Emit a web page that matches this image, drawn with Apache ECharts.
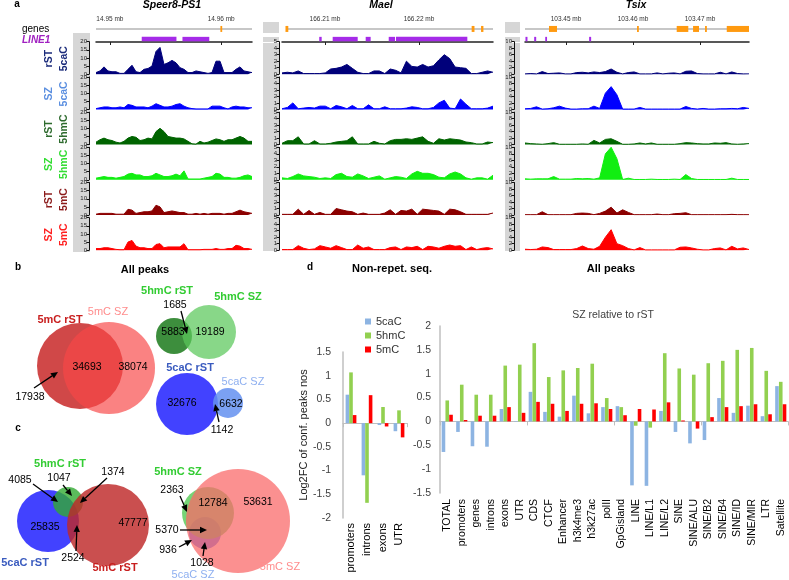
<!DOCTYPE html>
<html><head><meta charset="utf-8">
<script src="https://cdn.jsdelivr.net/npm/echarts@6/dist/echarts.min.js"></script>
<style>html,body{margin:0;padding:0;background:#fff}#c{width:789px;height:580px}</style>
</head><body><div id="c"></div>
<script>
// ---------- Panel a: signal tracks (40 bins per locus) ----------
const speer_rST_5caC = [1,2,4.5,2,1.5,1.5,0.5,0.5,3,5.5,1.5,1,3,3.5,5,14,16.5,6,7,8.5,7,4,3,1,1,2,1.5,1,0.5,1,8,8,1,1,1,3,4.5,2,1.5,1];
const speer_SZ_5caC = [0.5,1,1.5,1.5,1,1,1.5,1,3,2.5,1.5,1.5,1.5,1,2,3.5,2.5,1.5,1.5,2,3,3.5,2,1,0.5,0.3,0.3,0.3,0.3,2,2,2,1,0.3,1.5,2,1.5,1.5,1,1];
const speer_rST_5hmC = [1.5,3,4,3,2.5,1.5,1,2,4,5,4.5,2.5,3,4,3.5,8,10,8,5,4.5,4,4,3.5,2,0.5,0.3,2,1,1.5,2.5,3.5,3,2,3,3,4,5,4,2,2];
const speer_SZ_5hmC = [1,1.5,2,1.5,1.5,1,1.5,2,3.5,4,3,3,2,2,2.5,4,3,2,2,2.5,3.5,2.5,5.5,0.5,0.5,0.5,0.5,1,1.5,2,4,3.5,1.5,1.5,1,1,1.5,2.5,3,2];
const speer_rST_5mC = [0.5,1,1,1,1,0.5,0.5,0.5,3.5,3,1,1.5,2,2,2.5,6,5,1.5,2,2.5,2,1.5,1.5,0.5,0.5,1,0.5,1,0.5,1,1,1,0.5,1,1,2,3,2,1.5,1];
const speer_SZ_5mC = [1,1,1.5,1.5,1,0.5,0.3,0.3,5,6,2.5,1.5,1.5,1,1,3.5,4,1.5,2,2,2,2,4,0.3,0.3,0.3,0.3,0.5,0.5,0.5,1,0.5,0.5,1,1,3,2.5,1,1,0.5];

const mael_rST_5caC = [0.2,0.3,0.2,0.5,0.1,0.1,0.1,0.1,0.2,0.8,0.9,1.1,1.5,0.9,0.3,0.1,0.1,0.5,0.5,0.1,0.8,0.6,0.2,2.0,1.2,1.1,1.5,1.1,1.3,2.2,3.0,2.4,1.1,1.0,0.9,0.1,0.1,0.3,0.5,0.3];
const mael_SZ_5caC = [0.1,0.3,1.0,0.1,0.2,0.3,0.2,0.5,0.5,0.1,0.6,0.4,0.1,0.6,0.1,0.1,0.7,0.1,0.1,0.4,0.1,0.1,0.1,0.2,0.4,0.3,0.1,0.1,0.3,1.0,1.4,0.2,0.1,1.6,0.8,0.1,0.1,0.1,0.2,0.5];
const mael_rST_5hmC = [0.2,0.6,0.6,1.2,0.1,0.1,0.6,0.1,0.1,0.2,0.4,0.5,0.6,1.2,0.1,0.1,0.1,0.5,0.2,0.1,0.6,0.8,0.8,0.9,0.8,1.0,1.2,0.5,0.2,0.9,0.7,0.9,0.8,0.7,0.4,0.3,0.1,0.1,0.4,0.3];
const mael_SZ_5hmC = [0.3,0.2,0.5,0.9,0.6,0.5,0.4,0.2,0.3,0.2,0.8,1.0,0.5,0.4,0.9,0.6,0.2,0.4,0.6,0.1,0.3,0.5,0.4,0.2,0.9,1.3,1.0,1.0,0.8,0.4,0.3,0.9,1.2,0.9,0.3,0.1,0.3,0.3,0.1,0.7];
const mael_rST_5mC = [0.1,0.1,0.1,0.9,0.1,0.7,0.1,0.4,0.1,0.1,1.0,0.8,0.6,0.5,0.1,0.3,0.1,0.1,0.1,0.3,0.8,0.1,0.7,0.6,0.9,0.1,0.9,0.8,0.7,0.6,0.1,0.9,0.8,0.5,0.1,0.1,0.1,0.1,0.1,0.3];
const mael_SZ_5mC = [0.1,0.1,0.1,0.7,0.3,0.1,0.2,0.7,0.5,0.3,0.7,0.4,0.1,0.1,0.8,0.3,0.5,0.1,0.1,0.1,0.4,0.5,0.1,0.5,0.4,0.6,0.1,0.6,0.5,0.3,0.6,0.8,0.6,0.7,0.1,0.5,0.1,0.3,0.4,0.2];

const tsix_rST_5caC = [0.1,0.2,0.1,0.8,0.2,0.3,0.4,0.1,0.1,0.5,0.6,0.4,0.7,0.5,0.8,1.6,0.6,0.1,0.5,0.7,0.1,0.1,0.1,0.4,0.1,0.3,0.4,0.1,0.9,1.0,0.2,0.1,0.1,0.1,0.6,0.1,0.7,0.2,0.1,0.1];
const tsix_SZ_5caC = [0.2,0.3,0.8,0.1,0.2,0.5,1.0,0.4,0.1,0.1,0.2,0.2,1.0,0.3,5.0,7.0,4.5,0.1,0.1,0.1,0.6,0.1,0.1,0.1,0.1,0.1,0.1,0.1,0.9,0.3,0.1,0.3,0.1,0.1,0.2,0.2,0.3,0.2,0.6,0.3];
const tsix_rST_5hmC = [0.5,0.3,0.2,0.1,0.3,0.6,0.1,0.1,0.1,0.1,0.2,0.1,1.3,0.5,1.6,1.8,1.0,0.1,0.1,0.2,0.5,0.2,0.5,0.1,0.1,0.1,0.1,0.3,0.6,0.5,0.3,0.2,0.2,0.5,0.4,0.6,0.2,0.1,0.2,0.3];
const tsix_SZ_5hmC = [0.3,0.2,0.3,0.3,0.3,1.0,0.2,0.2,0.2,0.4,0.3,0.4,0.2,0.6,8.0,10,6.5,0.1,0.5,0.1,0.1,0.1,0.2,0.1,0.1,0.1,0.2,0.1,1.6,0.4,0.1,0.1,0.1,0.1,0.1,0.1,0.5,0.1,0.1,0.1];
const tsix_rST_5mC = [0.1,0.1,0.1,1.0,0.1,0.1,0.1,0.1,0.1,0.5,0.6,0.5,0.1,0.5,1.2,2.4,0.6,1.6,0.8,0.1,0.1,0.1,0.1,0.3,0.1,0.1,0.4,0.5,0.7,0.1,0.1,0.1,0.1,0.1,0.1,0.1,0.2,0.1,0.1,0.1];
const tsix_SZ_5mC = [0.3,0.2,0.3,1.0,0.8,0.2,0.2,0.2,0.2,0.5,1.3,0.5,0.3,1.2,4.0,6.3,2.0,1.4,0.5,0.1,0.8,0.1,0.1,0.1,0.1,0.1,0.1,0.9,1.0,0.7,0.3,0.1,0.1,0.5,0.7,0.1,1.2,0.4,0.7,0.2];

// genomic annotation (mb)
const locusNames = ['Speer8-PS1','Mael','Tsix'];
const locusRange = [[14.94875,14.96277],[166.20543,166.22787],[103.44388,103.47731]];
const locusTicks = [[14.95,14.96],[166.21,166.22],[103.45,103.46,103.47]];
const speer_gene = [[14.94875,14.96277]];
const speer_exons = [[14.95993,14.96007]];
const speer_line1 = [[14.95286,14.95598],[14.95652,14.95893]];
const mael_gene = [[166.20590,166.22787]];
const mael_exons = [[166.20580,166.20610],[166.22560,166.22590],[166.22660,166.22685]];
const mael_line1 = [[166.20939,166.20965],[166.21082,166.21348],[166.21433,166.21486],[166.21678,166.21745],[166.21755,166.22514]];
const tsix_gene = [[103.44388,103.47731]];
const tsix_exons = [[103.44746,103.44866],[103.46060,103.46080],[103.46652,103.46825],[103.46896,103.46985],[103.47075,103.47095],[103.47399,103.47731]];
const tsix_line1 = [[103.44395,103.44425],[103.44525,103.44555],[103.44690,103.44715],[103.45345,103.45375]];

// ---------- Panel b/c: Venn counts ----------
const venn_5mC = [17938, 34693, 38074];          // rST only, shared, SZ only
const venn_5hmC = [5883, 1685, 19189];
const venn_5caC = [32676, 1142, 6632];
const venn_rST = [25835, 4085, 1047, 1374, 2524, 47777];
const venn_SZ = [2363, 12784, 53631, 5370, 936, 1028];

// ---------- Panel d: bars ----------
const nr_categories = ['promoters','introns','exons','UTR'];
const nr_5caC = [0.6,-1.1,-0.04,-0.17];
const nr_5hmC = [1.07,-1.68,0.34,0.27];
const nr_5mC = [0.17,0.59,-0.07,-0.3];

const all_categories = ['TOTAL','promoters','genes','introns','exons','UTR','CDS','CTCF','Enhancer','h3k4me3','h3k27ac','polII','GpGisland','LINE','LINE/L1','LINE/L2','SINE','SINE/ALU','SINE/B2','SINE/B4','SINE/ID','SINE/MIR','LTR','Satellite'];
const all_5caC = [-0.64,-0.22,-0.52,-0.53,0.26,-0.01,0.62,0.2,0.1,0.54,0.17,0.3,0.32,-1.34,-1.35,0.22,-0.22,-0.46,-0.39,0.49,0.18,0.33,0.11,0.74];
const all_5hmC = [0.44,0.77,0.56,0.56,1.17,1.19,1.64,0.93,1.07,1.12,1.21,0.49,0.3,-0.09,-0.13,1.43,1.11,0.98,1.22,1.27,1.5,1.54,1.06,0.83];
const all_5mC = [0.14,0.03,0.12,0.12,0.3,0.18,0.41,0.37,0.22,0.37,0.38,0.26,0.13,0.26,0.25,0.4,0.02,-0.15,0.09,0.3,0.32,0.36,0.15,0.36];

// ================= build =================
const FONT = 'Liberation Sans, Arial, sans-serif';
const tracks = [
  [speer_rST_5caC,speer_SZ_5caC,speer_rST_5hmC,speer_SZ_5hmC,speer_rST_5mC,speer_SZ_5mC],
  [mael_rST_5caC,mael_SZ_5caC,mael_rST_5hmC,mael_SZ_5hmC,mael_rST_5mC,mael_SZ_5mC],
  [tsix_rST_5caC,tsix_SZ_5caC,tsix_rST_5hmC,tsix_SZ_5hmC,tsix_rST_5mC,tsix_SZ_5mC]
];
const genes = [speer_gene, mael_gene, tsix_gene];
const exons = [speer_exons, mael_exons, tsix_exons];
const line1s = [speer_line1, mael_line1, tsix_line1];
const trackColors = ['#00007a','#0000ff','#006400','#11ee11','#8b0000','#ff0000'];
const labelColors = ['#1a2a7a','#5b8fe0','#2e6b2e','#33dd33','#8b1a1a','#ff2020'];
const rowLab1 = ['rST','SZ','rST','SZ','rST','SZ'];
const rowLab2 = ['5caC','5caC','5hmC','5hmC','5mC','5mC'];
const cols = [
  {left:96, width:156, offset:7, max:20, interval:5},
  {left:282, width:211, offset:3, max:5, interval:1},
  {left:525, width:224, offset:11, max:10, interval:2}
];
const rowTop = r => 41.7 + 35.2*r;
const rowH = 32.5;

const grid = [], xAxis = [], yAxis = [], series = [];
const idx = tracks[0][0].map((_, i) => i);

for (let c = 0; c < 3; c++) {
  for (let r = 0; r < 6; r++) {
    const gi = grid.length;
    grid.push({left: cols[c].left, top: rowTop(r), width: cols[c].width, height: rowH});
    xAxis.push({gridIndex: gi, type: 'category', data: idx, boundaryGap: false, show: false});
    yAxis.push({gridIndex: gi, type: 'value', min: 0, max: cols[c].max, interval: cols[c].interval,
      offset: cols[c].offset, splitLine: {show: false},
      axisLine: {show: true, lineStyle: {color: '#111', width: 1}},
      axisTick: {show: true, length: 2.5, lineStyle: {color: '#111'}},
      axisLabel: {fontSize: 6, color: '#222', margin: 2, fontFamily: FONT}});
    series.push({type: 'line', xAxisIndex: gi, yAxisIndex: gi, data: tracks[c][r], symbol: 'none',
      silent: true, animation: false, lineStyle: {width: 1, color: trackColors[r]},
      areaStyle: {color: trackColors[r], opacity: 1}});
  }
}
// gene / LINE1 rows with coordinate ruler on top
for (let c = 0; c < 3; c++) {
  const gi = grid.length;
  grid.push({left: cols[c].left, top: 13, width: cols[c].width, height: 29});
  xAxis.push({gridIndex: gi, type: 'value', position: 'top', min: locusRange[c][0], max: locusRange[c][1],
    splitLine: {show: false},
    axisLine: {show: true, lineStyle: {color: '#222', width: 1.5}},
    axisTick: {show: true, inside: true, length: 3, customValues: locusTicks[c], lineStyle: {color: '#222'}},
    axisLabel: {show: true, inside: true, customValues: locusTicks[c], margin: 3, fontSize: 6.5, color: '#333',
      fontFamily: FONT, formatter: v => v.toFixed(2) + ' mb'}});
  yAxis.push({gridIndex: gi, type: 'value', min: 0, max: 1, show: false});
  const data = [];
  genes[c].forEach(g => data.push([g[0], g[1], 2]));
  line1s[c].forEach(g => data.push([g[0], g[1], 0]));
  exons[c].forEach(g => data.push([g[0], g[1], 1]));
  series.push({type: 'custom', xAxisIndex: gi, yAxisIndex: gi, data: data, silent: true, animation: false,
    clip: false,
    renderItem: function (params, api) {
      const t = api.value(2);
      const yv = t === 0 ? 0.1 : 0.45;
      const p1 = api.coord([api.value(0), yv]);
      const p2 = api.coord([api.value(1), yv]);
      const h = t === 0 ? 4.5 : (t === 1 ? 6 : 1.4);
      const w = Math.max(p2[0] - p1[0], 1.8);
      const col = t === 0 ? '#a52be8' : (t === 1 ? '#ff9a10' : '#b5b5b5');
      return {type: 'rect', shape: {x: p1[0], y: p1[1] - h / 2, width: w, height: h}, style: {fill: col}};
    }});
}

// ---- panel d bar charts ----
const barColors = ['#8db4e2', '#92d050', '#ff0000'];
const gL = grid.length;
grid.push({left: 343, top: 352, width: 64, height: 166});
const gR = grid.length;
grid.push({left: 440, top: 326, width: 348, height: 167});
function barAxes(g, cats, ymin, ymax, labMargin, labSize, yMargin) {
  const xz = xAxis.length;
  xAxis.push({gridIndex: g, type: 'category', data: cats,
    axisLine: {show: true, onZero: true, lineStyle: {color: '#bfbfbf', width: 1.2}},
    axisTick: {show: true, length: 4, lineStyle: {color: '#bfbfbf'}},
    axisLabel: {show: false}, splitLine: {show: false}});
  xAxis.push({gridIndex: g, type: 'category', data: cats, position: 'bottom',
    axisLine: {show: false, onZero: false}, axisTick: {show: false},
    axisLabel: {rotate: 90, interval: 0, margin: labMargin, fontSize: labSize, color: '#000', fontFamily: FONT}});
  const yi = yAxis.length;
  yAxis.push({gridIndex: g, type: 'value', min: ymin, max: ymax, interval: 0.5,
    axisLine: {show: true, lineStyle: {color: '#bfbfbf', width: 1.5}},
    axisTick: {show: false}, splitLine: {show: false},
    axisLabel: {fontSize: 10.5, color: '#404040', margin: yMargin, fontFamily: FONT}});
  return [xz, yi];
}
const [lx, ly] = barAxes(gL, nr_categories, -2, 1.5, 5, 11, 12);
yAxis[ly].name = 'Log2FC of conf. peaks nos';
yAxis[ly].nameLocation = 'middle';
yAxis[ly].nameGap = 30;
yAxis[ly].nameTextStyle = {fontSize: 11, color: '#222', fontFamily: FONT};
const [rx, ry] = barAxes(gR, all_categories, -1.5, 2, 6, 10.5, 9);

const names = ['5caC', '5hmC', '5mC'];
[nr_5caC, nr_5hmC, nr_5mC].forEach((d, k) => series.push({type: 'bar', name: names[k], xAxisIndex: lx, yAxisIndex: ly,
  data: d, barWidth: 3.6, barGap: '0%', itemStyle: {color: barColors[k]}, animation: false}));
[all_5caC, all_5hmC, all_5mC].forEach((d, k) => series.push({type: 'bar', name: names[k], xAxisIndex: rx, yAxisIndex: ry,
  data: d, barWidth: 3.6, barGap: '5%', itemStyle: {color: barColors[k]}, animation: false}));

// ---------- graphic: labels, gray panels, Venn diagrams ----------
const G = [];
function txt(x, y, text, font, fill, opt) {
  opt = opt || {};
  G.push({type: 'text', x: x, y: y, rotation: opt.rot || 0, z: 50,
    style: {text: text, font: font, fill: fill,
      align: opt.align || 'center', textAlign: opt.align || 'center',
      verticalAlign: 'middle', textVerticalAlign: 'middle'}});
}
function rect(x, y, w, h, fill) {
  G.push({type: 'rect', z: -5, shape: {x: x, y: y, width: w, height: h}, style: {fill: fill}});
}
function circ(cx, cy, r, fill) {
  G.push({type: 'circle', z: 5, shape: {cx: cx, cy: cy, r: r}, style: {fill: fill}});
}
function arrow(x1, y1, x2, y2) {
  const a = Math.atan2(y2 - y1, x2 - x1), L = 7, W = 3.2;
  const bx = x2 - L * Math.cos(a), by = y2 - L * Math.sin(a);
  G.push({type: 'line', z: 40, shape: {x1: x1, y1: y1, x2: bx, y2: by}, style: {stroke: '#000', lineWidth: 1.3}});
  G.push({type: 'polygon', z: 40, shape: {points: [[x2, y2], [bx + W * Math.sin(a), by - W * Math.cos(a)], [bx - W * Math.sin(a), by + W * Math.cos(a)]]},
    style: {fill: '#000'}});
}
// gray scale panels
rect(73, 33, 17, 219, '#d6d6d6');
rect(263, 22, 16, 11, '#d6d6d6'); rect(263, 37, 16, 5, '#d6d6d6'); rect(263, 43, 16, 208, '#d6d6d6');
rect(505, 22, 15, 11, '#d6d6d6'); rect(505, 37, 15, 5, '#d6d6d6'); rect(505, 43, 15, 208, '#d6d6d6');

const B = 'bold ';
txt(17, 4, 'a', B + '10px ' + FONT, '#000');
txt(172, 5, locusNames[0], 'italic bold 10.5px ' + FONT, '#000');
txt(381, 5, locusNames[1], 'italic bold 10.5px ' + FONT, '#000');
txt(636, 5, locusNames[2], 'italic bold 10.5px ' + FONT, '#000');
txt(22, 29, 'genes', '10px ' + FONT, '#000', {align: 'left'});
txt(22, 40, 'LINE1', 'italic bold 10px ' + FONT, '#a020c0', {align: 'left'});
for (let r = 0; r < 6; r++) {
  const cy = rowTop(r) + 17;
  txt(49, cy, rowLab1[r], B + '10.5px ' + FONT, labelColors[r], {rot: Math.PI / 2});
  txt(64, cy, rowLab2[r], B + '10.5px ' + FONT, labelColors[r], {rot: Math.PI / 2});
}
txt(18, 267, 'b', B + '10px ' + FONT, '#000');
txt(145, 270, 'All peaks', B + '11px ' + FONT, '#000');
txt(310, 267, 'd', B + '10px ' + FONT, '#000');
txt(392, 269, 'Non-repet. seq.', B + '11px ' + FONT, '#000');
txt(611, 269, 'All peaks', B + '11px ' + FONT, '#000');
txt(613, 315, 'SZ relative to rST', '10.5px ' + FONT, '#404040');
txt(18, 428, 'c', B + '10px ' + FONT, '#000');

const NF = '10.5px ' + FONT;
// Venn b1: 5mC
circ(80, 366, 43, 'rgba(200,40,40,0.85)');
circ(109, 368, 46, 'rgba(248,71,71,0.68)');
txt(60, 320, '5mC rST', B + '11px ' + FONT, '#c81e1e');
txt(108, 312, '5mC SZ', '11px ' + FONT, '#ff8c8c');
txt(87, 367, String(venn_5mC[1]), NF, '#000');
txt(133, 367, String(venn_5mC[2]), NF, '#000');
txt(30, 397, String(venn_5mC[0]), NF, '#000');
arrow(34, 388, 58, 372);
// Venn b2: 5hmC
circ(174, 336, 18, 'rgba(40,130,40,0.9)');
circ(209, 332, 27, 'rgba(90,200,90,0.72)');
txt(167, 291, '5hmC rST', B + '11px ' + FONT, '#33cc33');
txt(238, 297, '5hmC SZ', B + '11px ' + FONT, '#33cc33');
txt(173, 332, String(venn_5hmC[0]), NF, '#000');
txt(210, 332, String(venn_5hmC[2]), NF, '#000');
txt(175, 305, String(venn_5hmC[1]), NF, '#000');
arrow(181, 311, 187, 334);
// Venn b3: 5caC
circ(187, 404, 31, 'rgba(40,40,255,0.88)');
circ(228, 403, 15, 'rgba(100,145,240,0.85)');
txt(190, 368, '5caC rST', B + '11px ' + FONT, '#3a5bbf');
txt(243, 382, '5caC SZ', '11px ' + FONT, '#8fb0f0');
txt(182, 403, String(venn_5caC[0]), NF, '#000');
txt(231, 404, String(venn_5caC[2]), NF, '#000');
txt(222, 430, String(venn_5caC[1]), NF, '#000');
arrow(219, 422, 215, 404);
// Venn c1: rST
circ(48, 521, 31, 'rgba(40,40,255,0.88)');
circ(68, 502, 15, 'rgba(50,170,50,0.8)');
circ(108, 525, 41, 'rgba(190,40,40,0.82)');
txt(60, 464, '5hmC rST', B + '11px ' + FONT, '#33cc33');
txt(25, 563, '5caC rST', B + '11px ' + FONT, '#3a5bbf');
txt(115, 568, '5mC rST', B + '11px ' + FONT, '#c81e1e');
txt(45, 527, String(venn_rST[0]), NF, '#000');
txt(20, 480, String(venn_rST[1]), NF, '#000');
arrow(33, 484, 58, 502);
txt(59, 478, String(venn_rST[2]), NF, '#000');
arrow(63, 485, 72, 496);
txt(113, 472, String(venn_rST[3]), NF, '#000');
arrow(107, 478, 80, 503);
txt(73, 558, String(venn_rST[4]), NF, '#000');
arrow(76, 551, 77, 525);
txt(133, 523, String(venn_rST[5]), NF, '#000');
// Venn c2: SZ
circ(205, 533, 16, 'rgba(80,110,240,0.9)');
circ(208, 513, 26, 'rgba(80,200,80,0.78)');
circ(238, 521, 52, 'rgba(250,105,105,0.74)');
txt(178, 472, '5hmC SZ', B + '11px ' + FONT, '#33cc33');
txt(193, 575, '5caC SZ', '11px ' + FONT, '#8fb0f0');
txt(280, 567, '5mC SZ', '11px ' + FONT, '#ff8c8c');
txt(172, 490, String(venn_SZ[0]), NF, '#000');
arrow(180, 496, 187, 512);
txt(213, 503, String(venn_SZ[1]), NF, '#000');
txt(258, 502, String(venn_SZ[2]), NF, '#000');
txt(167, 530, String(venn_SZ[3]), NF, '#000');
arrow(180, 530, 207, 530);
txt(168, 550, String(venn_SZ[4]), NF, '#000');
arrow(179, 547, 192, 540);
txt(202, 563, String(venn_SZ[5]), NF, '#000');
arrow(203, 556, 205, 542);

const option = {
  backgroundColor: '#fff',
  animation: false,
  textStyle: {fontFamily: FONT},
  grid: grid, xAxis: xAxis, yAxis: yAxis, series: series,
  legend: {data: names, orient: 'vertical', left: 360, top: 311, itemWidth: 6, itemHeight: 6, itemGap: 3,
    icon: 'rect', textStyle: {fontSize: 11, color: '#333', fontFamily: FONT}},
  graphic: {elements: G}
};
const chart = echarts.init(document.getElementById('c'), null, {renderer: 'canvas'});
chart.setOption(option);
</script></body></html>
